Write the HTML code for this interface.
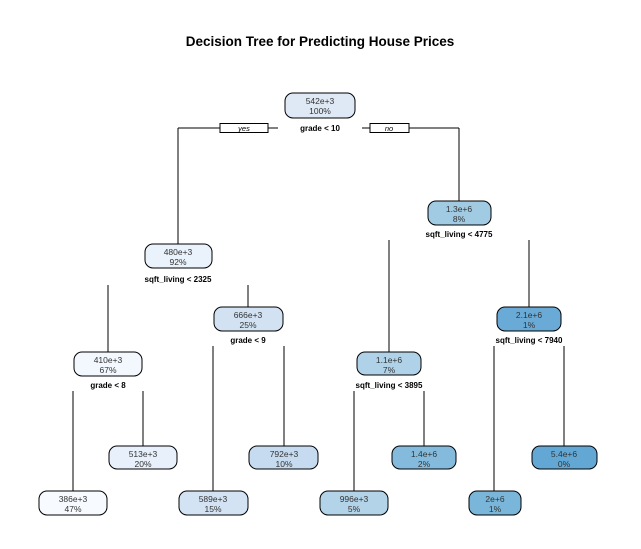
<!DOCTYPE html>
<html><head><meta charset="utf-8"><style>
html,body{margin:0;padding:0;background:#fff;}
svg{display:block;}
text{font-family:"Liberation Sans",Arial,sans-serif;}
.n{font-size:8.5px;fill:#333;text-anchor:middle;}
.s{font-size:8px;font-weight:bold;fill:#000;text-anchor:middle;}
rect.b{stroke:#000;stroke-width:1;}
line{stroke:#000;stroke-width:1;}
</style></head><body>
<svg width="641" height="549" viewBox="0 0 641 549" xmlns="http://www.w3.org/2000/svg">
<text x="320" y="46" text-anchor="middle" style="font-size:13.5px;font-weight:bold;">Decision Tree for Predicting House Prices</text>

<!-- root connectors -->
<line x1="178" y1="128" x2="220" y2="128"/><line x1="268" y1="128" x2="278" y2="128"/>
<line x1="178" y1="128" x2="178" y2="244"/>
<rect x="220" y="123.5" width="48" height="9" fill="#fff" stroke="#000"/>
<text x="244" y="131" text-anchor="middle" style="font-size:7.5px;font-style:italic;">yes</text>
<line x1="362" y1="128" x2="370" y2="128"/><line x1="409" y1="128" x2="459" y2="128"/>
<line x1="459" y1="128" x2="459" y2="201"/>
<rect x="370" y="123.5" width="39" height="9" fill="#fff" stroke="#000"/>
<text x="389" y="131" text-anchor="middle" style="font-size:7.5px;font-style:italic;">no</text>

<!-- other connectors -->
<line x1="108" y1="285" x2="108" y2="352"/>
<line x1="248" y1="285" x2="248" y2="307"/>
<line x1="389" y1="240" x2="389" y2="352"/>
<line x1="529" y1="240" x2="529" y2="307"/>
<line x1="213" y1="346" x2="213" y2="491"/>
<line x1="284" y1="346" x2="284" y2="446"/>
<line x1="494" y1="346" x2="494" y2="491"/>
<line x1="564" y1="346" x2="564" y2="446"/>
<line x1="73" y1="391" x2="73" y2="491"/>
<line x1="143" y1="391" x2="143" y2="446"/>
<line x1="354" y1="391" x2="354" y2="491"/>
<line x1="424" y1="391" x2="424" y2="446"/>

<!-- nodes -->
<g>
<rect class="b" x="285" y="93" width="70" height="25" rx="8" fill="#dfe9f5"/>
<text class="n" x="320" y="104">542e+3</text><text class="n" x="320" y="114">100%</text>
<text class="s" x="320" y="131">grade &lt; 10</text>

<rect class="b" x="145" y="244" width="67" height="24" rx="8" fill="#eaf2fb"/>
<text class="n" x="178" y="255">480e+3</text><text class="n" x="178" y="265">92%</text>
<text class="s" x="178" y="282">sqft_living &lt; 2325</text>

<rect class="b" x="428" y="201" width="63" height="24" rx="8" fill="#a1cae3"/>
<text class="n" x="459" y="212">1.3e+6</text><text class="n" x="459" y="222">8%</text>
<text class="s" x="459" y="237">sqft_living &lt; 4775</text>

<rect class="b" x="214" y="307" width="69" height="24" rx="8" fill="#d2e2f2"/>
<text class="n" x="248" y="318">666e+3</text><text class="n" x="248" y="328">25%</text>
<text class="s" x="248" y="343">grade &lt; 9</text>

<rect class="b" x="497" y="307" width="64" height="24" rx="8" fill="#6aaad6"/>
<text class="n" x="529" y="318">2.1e+6</text><text class="n" x="529" y="328">1%</text>
<text class="s" x="529" y="343">sqft_living &lt; 7940</text>

<rect class="b" x="74" y="352" width="68" height="24" rx="8" fill="#f3f8fe"/>
<text class="n" x="108" y="363">410e+3</text><text class="n" x="108" y="373">67%</text>
<text class="s" x="108" y="388">grade &lt; 8</text>

<rect class="b" x="357" y="352" width="64" height="23" rx="8" fill="#b0d2e8"/>
<text class="n" x="389" y="363">1.1e+6</text><text class="n" x="389" y="373">7%</text>
<text class="s" x="389" y="388">sqft_living &lt; 3895</text>

<rect class="b" x="109" y="446" width="68" height="23" rx="8" fill="#e8f1fb"/>
<text class="n" x="143" y="457">513e+3</text><text class="n" x="143" y="467">20%</text>

<rect class="b" x="249" y="446" width="69" height="23" rx="8" fill="#c6dbef"/>
<text class="n" x="284" y="457">792e+3</text><text class="n" x="284" y="467">10%</text>

<rect class="b" x="392" y="446" width="64" height="23" rx="8" fill="#84bbdc"/>
<text class="n" x="424" y="457">1.4e+6</text><text class="n" x="424" y="467">2%</text>

<rect class="b" x="532" y="446" width="65" height="23" rx="8" fill="#63a7d5"/>
<text class="n" x="564" y="457">5.4e+6</text><text class="n" x="564" y="467">0%</text>

<rect class="b" x="39" y="491" width="68" height="24" rx="8" fill="#f7fbff"/>
<text class="n" x="73" y="502">386e+3</text><text class="n" x="73" y="512">47%</text>

<rect class="b" x="179" y="491" width="69" height="24" rx="8" fill="#d3e3f3"/>
<text class="n" x="213" y="502">589e+3</text><text class="n" x="213" y="512">15%</text>

<rect class="b" x="320" y="491" width="68" height="24" rx="8" fill="#b3d3e8"/>
<text class="n" x="354" y="502">996e+3</text><text class="n" x="354" y="512">5%</text>

<rect class="b" x="469" y="491" width="52" height="24" rx="8" fill="#7ab6d9"/>
<text class="n" x="495" y="502">2e+6</text><text class="n" x="495" y="512">1%</text>
</g>
</svg>
</body></html>
